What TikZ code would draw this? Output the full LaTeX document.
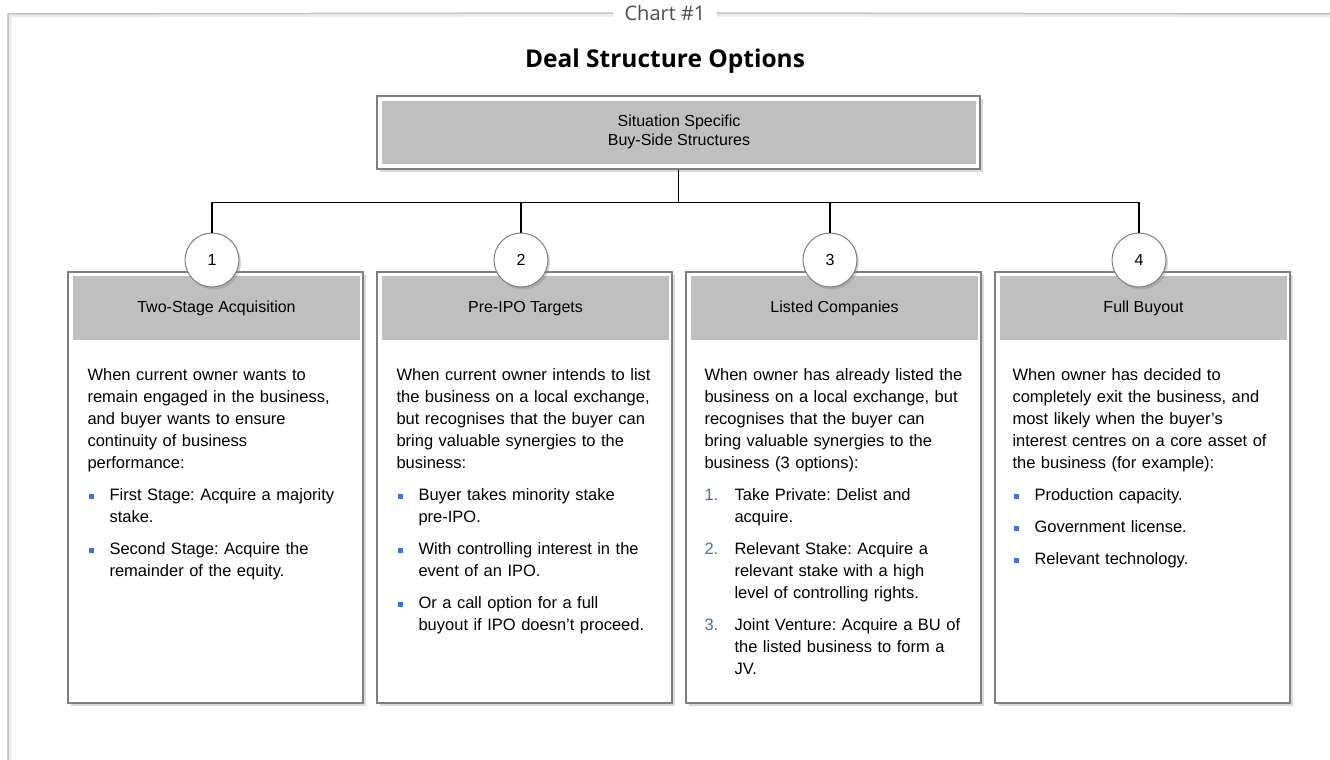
\documentclass[tikz,border=0pt]{standalone}
\usepackage{fontspec}
\setmainfont{Liberation Sans}
\newfontfamily\headfont{Open Sans}
\usepackage{tikz}
\usetikzlibrary{positioning, shadows, calc}

\definecolor{framegray}{HTML}{C4C4C4}
\definecolor{boxgray}{HTML}{7F7F7F}
\definecolor{hdrgray}{HTML}{BFBFBF}
\definecolor{bulletblue}{HTML}{4472C4}
\definecolor{numblue}{HTML}{4A6FA5}

% bullet and numbered items with hanging indent
\newcommand\bitem[1]{\par\hangindent=22pt\hangafter=1\noindent\makebox[22pt][l]{\hspace{1pt}\textcolor{bulletblue}{\rule[2pt]{5pt}{5pt}}}#1\par}
\newcommand\nitem[2]{\par\hangindent=30pt\hangafter=1\noindent\makebox[30pt][l]{\textcolor{numblue}{#1.}}#2\par}

\tikzset{
  optbox/.style={draw=boxgray, line width=1.3pt, fill=white, inner sep=0pt,
    minimum width=295pt, minimum height=431pt,
    drop shadow={shadow xshift=2.5pt, shadow yshift=-2.5pt, opacity=0.3}},
  hdrbox/.style={fill=hdrgray, inner sep=0pt, minimum width=287pt, minimum height=64pt,
    font=\fontsize{16}{19}\selectfont},
  numcircle/.style={circle, draw=boxgray, line width=1pt, fill=white, minimum size=54pt, inner sep=0pt,
    font=\fontsize{16}{19}\selectfont,
    drop shadow={shadow xshift=2pt, shadow yshift=-2.5pt, opacity=0.35}},
  bodytext/.style={anchor=north west, text width=272pt, align=left, inner sep=0pt,
    font=\fontsize{16.5}{22}\selectfont\frenchspacing\setlength{\parskip}{10pt}\setlength{\parindent}{0pt}},
  conn/.style={draw=black, line width=1.2pt}
}

\begin{document}
\begin{tikzpicture}[x=1pt, y=-1pt]
\useasboundingbox (0,0) rectangle (1330,760);

% outer frame with caption
\node [inner xsep=11pt, text=black!70, font=\headfont\fontsize{20}{22}\selectfont] (charttitle) at (665,13) {Chart \#1};
\coordinate (frametl) at (8,14);
\coordinate (framebl) at (8,760);
\coordinate (frametr) at (1330,14);
\draw [black!8, line width=4pt] ($(charttitle.west)+(0,1.5)$) -- ($(frametl)+(1.5,1.5)$) -- ($(framebl)+(1.5,0)$);
\draw [black!8, line width=4pt] ($(charttitle.east)+(0,1.5)$) -- ($(frametr)+(0,1.5)$);
\draw [framegray, line width=1.5pt] (charttitle.west) -- (frametl) -- (framebl);
\draw [framegray, line width=1.5pt] (charttitle.east) -- (frametr);

\node [font=\headfont\bfseries\fontsize{24.5}{28}\selectfont] (title) at (665,61) {Deal Structure Options};

% root box
\node [draw=boxgray, line width=1.3pt, fill=white, minimum width=603pt, minimum height=73pt,
  drop shadow={shadow xshift=2.5pt, shadow yshift=-2.5pt, opacity=0.3}] (root) at (678.5,132.5) {};
\node [fill=hdrgray, minimum width=594pt, minimum height=63pt, inner sep=0pt] (roothd) at (root.center) {};
\node [align=center, font=\fontsize{16}{19}\selectfont] (roottxt) at (679,132) {Situation Specific\\Buy-Side Structures};

% connectors
\coordinate (bus) at ($(root.south)+(0,33)$);
\draw [conn] (root.south) -- (bus);

% option boxes
\foreach \i/\hd in {1/Two-Stage Acquisition, 2/Pre-IPO Targets, 3/Listed Companies, 4/Full Buyout}{
  \node [optbox] (box\i) at (215.5+309*\i-309, 487.5) {};
  \node [hdrbox] (hd\i) at ($(box\i.north)+(1,37)$) {\hd};
}
\foreach \i in {1,...,4}{
  \node [numcircle] (c\i) at (212+309*\i-309, 260) {\i};
  \draw [conn] (bus) -| (c\i.north);
}

\node [bodytext] (txt1) at ($(box1.north west)+(20,97)$) {%
When current owner wants to\newline remain engaged in the business,\newline and buyer wants to ensure\newline continuity of business\newline performance:
\bitem{First Stage: Acquire a majority\newline stake.}
\bitem{Second Stage: Acquire the\newline remainder of the equity.}};

\node [bodytext] (txt2) at ($(box2.north west)+(20,97)$) {%
When current owner intends to list\newline the business on a local exchange,\newline but recognises that the buyer can\newline bring valuable synergies to the\newline business:
\bitem{Buyer takes minority stake\newline pre-IPO.}
\bitem{With controlling interest in the\newline event of an IPO.}
\bitem{Or a call option for a full\newline buyout if IPO doesn’t proceed.}};

\node [bodytext] (txt3) at ($(box3.north west)+(19,97)$) {%
When owner has already listed the\newline business on a local exchange, but\newline recognises that the buyer can\newline bring valuable synergies to the\newline business (3 options):
\nitem{1}{Take Private: Delist and\newline acquire.}
\nitem{2}{Relevant Stake: Acquire a\newline relevant stake with a high\newline level of controlling rights.}
\nitem{3}{Joint Venture: Acquire a BU of\newline the listed business to form a\newline JV.}};

\node [bodytext] (txt4) at ($(box4.north west)+(18,97)$) {%
When owner has decided to\newline completely exit the business, and\newline most likely when the buyer’s\newline interest centres on a core asset of\newline the business (for example):
\bitem{Production capacity.}
\bitem{Government license.}
\bitem{Relevant technology.}};
\end{tikzpicture}
\end{document}
